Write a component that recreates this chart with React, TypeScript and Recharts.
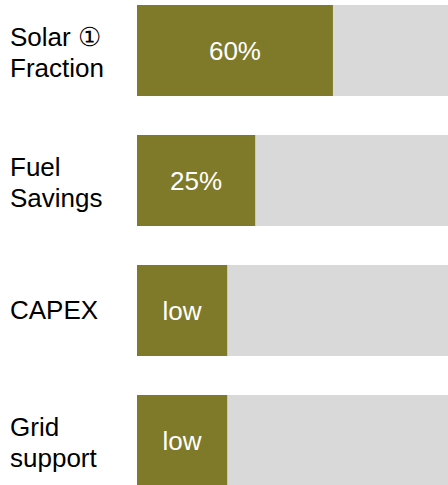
import { BarChart, Bar, XAxis, YAxis, LabelList } from 'recharts';

// Row labels, left column (line breaks as in the picture)
const categories = ['Solar \u2460\nFraction', 'Fuel\nSavings', 'CAPEX', 'Grid\nsupport'];

// Length of the olive bar as share of the grey track
const fillShare = [63, 38, 29, 29];

// Text printed inside each olive bar
const valueLabels = ['60%', '25%', 'low', 'low'];

const OLIVE = '#7f7a2a';
const TRACK = '#d9d9d9';
const FONT = '"Liberation Sans", Arial, sans-serif';

const data = categories.map((name, i) => ({
  name,
  share: fillShare[i],
  label: valueLabels[i],
}));

function CategoryTick({ y, payload }: any) {
  const lines: string[] = String(payload.value).split('\n');
  const first = lines.length > 1 ? -4 : 9;
  return (
    <text x={10} y={y} fill="#000" fontSize={26} fontFamily={FONT} textAnchor="start">
      {lines.map((line, i) => (
        <tspan key={i} x={10} dy={i === 0 ? first : 31}>
          {line}
        </tspan>
      ))}
    </text>
  );
}

export default function App() {
  return (
    <div
      style={{
        position: 'fixed',
        left: 0,
        top: 0,
        width: 448,
        height: 485,
        overflow: 'hidden',
        background: '#fff',
      }}
    >
      <div style={{ position: 'relative', top: -15 }}>
        <BarChart
          width={448}
          height={520}
          data={data}
          layout="vertical"
          margin={{ top: 0, right: 0, bottom: 0, left: 0 }}
          style={{ fontFamily: FONT }}
        >
          <XAxis type="number" domain={[0, 100]} hide />
          <YAxis
            type="category"
            dataKey="name"
            width={137}
            axisLine={false}
            tickLine={false}
            tick={<CategoryTick />}
            interval={0}
          />
          <Bar
            dataKey="share"
            fill={OLIVE}
            barSize={91}
            background={{ fill: TRACK }}
            isAnimationActive={false}
          >
            <LabelList
              dataKey="label"
              position="center"
              fill="#ffffff"
              fontSize={26}
              fontFamily={FONT}
            />
          </Bar>
        </BarChart>
      </div>
    </div>
  );
}
